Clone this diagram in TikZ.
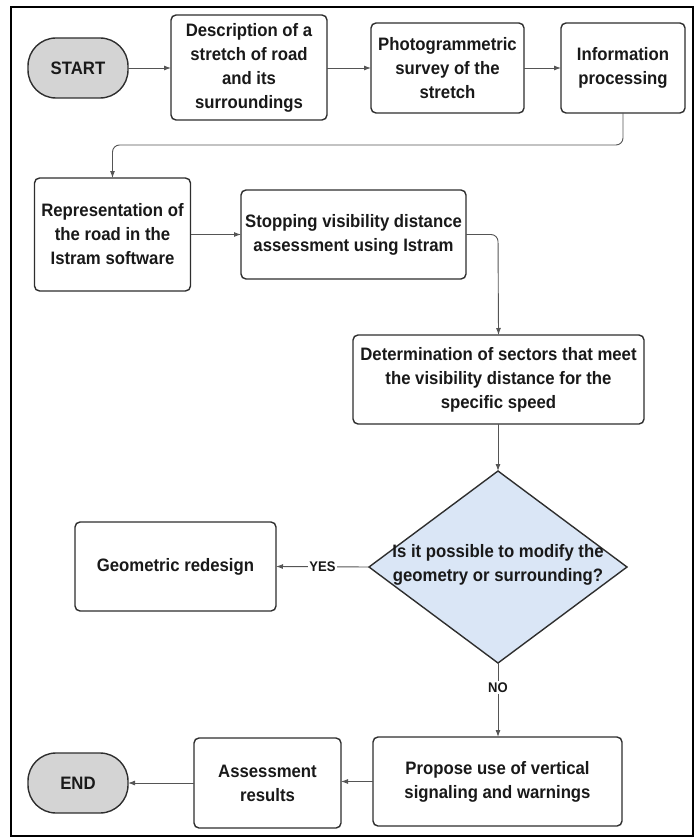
\documentclass[tikz,border=0pt]{standalone}
\usepackage{fontspec}
\setmainfont{Liberation Sans}[FakeStretch=0.93]
\usetikzlibrary{shapes.geometric,arrows.meta}
\definecolor{termfill}{HTML}{D4D4D4}
\definecolor{diafill}{HTML}{DAE6F6}
\definecolor{boxline}{HTML}{2E2E2E}
\definecolor{conn}{HTML}{555555}
\tikzset{
  every node/.style={inner sep=0pt, outer sep=0pt},
  txt/.style={font=\fontsize{18}{24}\selectfont\bfseries, align=center, text=black!90},
  box/.style={txt, draw=boxline, line width=1.4pt, rounded corners=5pt, fill=white},
  term/.style={txt, draw=boxline, line width=1.4pt, rounded corners=28pt, fill=termfill, minimum width=100pt, minimum height=60pt},
  conn/.style={draw=conn, line width=0.9pt, -{Latex[length=7pt,width=5pt]}},
  lbl/.style={font=\fontsize{14}{16}\selectfont\bfseries, fill=white, inner sep=1.5pt, text=black!90},
}
\begin{document}
\begin{tikzpicture}[x=1pt,y=-1pt]
\useasboundingbox (0,0) rectangle (699,840);
\draw[line width=2.2pt, black] (11,7) rectangle (693,836);

\node[term] (start) at (78,68) {START};
\node[box, minimum width=156pt, minimum height=105pt] (desc) at (249,67.5) {Description of a\\stretch of road\\and its\\surroundings};
\node[box, minimum width=153pt, minimum height=90pt] (photo) at (447.5,68) {Photogrammetric\\survey of the\\stretch};
\node[box, minimum width=124pt, minimum height=90pt] (info) at (623,68) {Information\\processing};
\node[box, minimum width=156pt, minimum height=113pt] (repr) at (112.5,234.5) {Representation of\\the road in the\\Istram software};
\node[box, minimum width=225pt, minimum height=89pt] (stop) at (353.5,234.5) {Stopping visibility distance\\assessment using Istram};
\node[box, minimum width=291pt, minimum height=89pt] (det) at (498.5,379.5) {Determination of sectors that meet\\the visibility distance for the\\specific speed};
\node[diamond, draw=boxline, line width=1.4pt, fill=diafill, minimum width=258pt, minimum height=192pt] (dia) at (498,567) {};
\node[txt] (diatext) at (498,565) {Is it possible to modify the\\geometry or surrounding?};
\node[box, minimum width=201pt, minimum height=89pt] (geo) at (175.5,566.5) {Geometric redesign};
\node[box, minimum width=249pt, minimum height=89pt] (prop) at (497.5,781.5) {Propose use of vertical\\signaling and warnings};
\node[box, minimum width=147pt, minimum height=90pt] (assess) at (267.5,783) {Assessment\\results};
\node[term] (end) at (78,783) {END};

\coordinate (c1) at (623,145);
\coordinate (c2) at (112.5,145);
\coordinate (c3) at (498,234.5);

\draw[conn] (start.east) -- (desc.west |- start.east);
\draw[conn] (desc.east |- photo.west) -- (photo.west);
\draw[conn] (photo.east) -- (info.west);
\draw[conn, rounded corners=7pt] (info.south) -- (c1) -- (c2) -- (repr.north);
\draw[conn] (repr.east) -- (stop.west);
\draw[conn, rounded corners=7pt] (stop.east) -- (c3) -- (det.south |- det.north);
\draw[conn] (det.south -| dia.north) -- (dia.north);
\draw[conn] (dia.west) -- node[lbl] (yes) {YES} (geo.east);
\draw[conn] (dia.south) -- node[lbl, pos=0.33] (no) {NO} (prop.north -| dia.south);
\draw[conn] (prop.west) -- (assess.east |- prop.west);
\draw[conn] (assess.west) -- (end.east);
\end{tikzpicture}
\end{document}
